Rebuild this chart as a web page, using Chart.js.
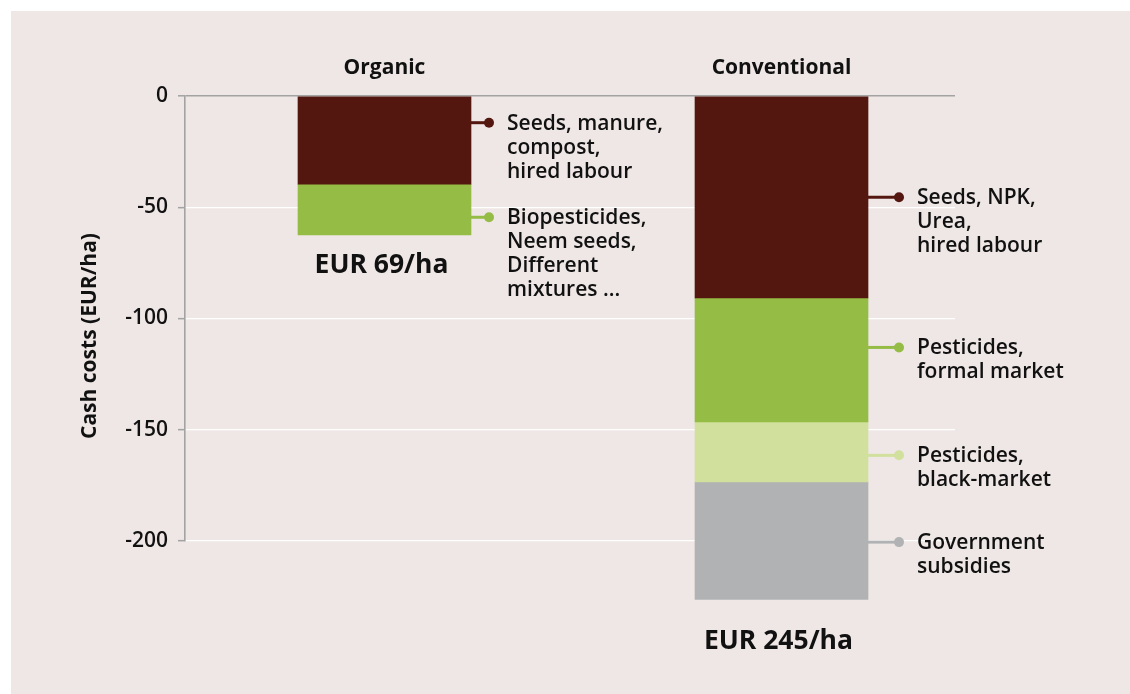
<!DOCTYPE html>
<html>
<head>
<meta charset="utf-8">
<script src="https://cdn.jsdelivr.net/npm/chart.js@4.4.1/dist/chart.umd.min.js"></script>
<style>
  html, body { margin: 0; padding: 0; background: #ffffff; }
  #wrap { position: relative; width: 1130px; height: 694px; }
  canvas { display: block; }
</style>
</head>
<body>
<div id="wrap"><canvas id="c" width="1130" height="694"></canvas></div>
<script>
// ---- data ----
const categories = ['Organic', 'Conventional'];
const seedsLabour = [-39.6, -90.8];
const pesticides = [-22.8, -55.7];
const blackMarket = [null, -27.0];
const subsidies = [null, -52.8];
const totalLabels = ['EUR 69/ha', 'EUR 245/ha'];
const yTicks = [0, -50, -100, -150, -200];
const seriesNotes = [
  [['Seeds, manure,', 'compost,', 'hired labour'], ['Seeds, NPK,', 'Urea,', 'hired labour']],
  [['Biopesticides,', 'Neem seeds,', 'Different', 'mixtures ...'], ['Pesticides,', 'formal market']],
  [null, ['Pesticides,', 'black-market']],
  [null, ['Government', 'subsidies']]
];
const yTitle = 'Cash costs (EUR/ha)';

// ---- styling ----
const COLORS = ['#53170f', '#95bc45', '#d1e09c', '#b1b2b4'];
const PANEL = '#efe7e6';
const TEXT = '#111111';
const AXIS = '#a3a3a3';
const FONT = '"Open Sans", "Noto Sans", sans-serif';

const toPoints = arr => arr.map((v, i) => ({ x: i, y: v }));
const seriesArrays = [seedsLabour, pesticides, blackMarket, subsidies];

const panelPlugin = {
  id: 'panel',
  beforeDraw(chart) {
    const ctx = chart.ctx;
    ctx.save();
    ctx.fillStyle = '#ffffff';
    ctx.fillRect(0, 0, chart.width, chart.height);
    ctx.fillStyle = PANEL;
    ctx.fillRect(11, 11, chart.width - 11, chart.height - 11);
    ctx.restore();
  }
};

// leader anchor positions (in data units) and geometry of the annotations
const noteOpts = {
  anchors: [[-12, -45.5], [-54.5, -113], [null, -161.5], [null, -200.5]],
  leaderLen: [18, 31],
  textGap: 18,
  lineHeight: 24
};

const notesPlugin = {
  id: 'notes',
  afterDatasetsDraw(chart) {
    const ctx = chart.ctx;
    const y = chart.scales.y;
    const x = chart.scales.x;
    ctx.save();
    seriesNotes.forEach((notes, di) => {
      const meta = chart.getDatasetMeta(di);
      notes.forEach((lines, ci) => {
        if (!lines || seriesArrays[di][ci] === null) return;
        const bar = meta.data[ci];
        if (!bar) return;
        const right = bar.x + bar.width / 2;
        const ly = y.getPixelForValue(noteOpts.anchors[di][ci]);
        const dotX = right + noteOpts.leaderLen[ci];
        ctx.strokeStyle = COLORS[di];
        ctx.fillStyle = COLORS[di];
        ctx.lineWidth = 3;
        ctx.beginPath();
        ctx.moveTo(right, ly);
        ctx.lineTo(dotX, ly);
        ctx.stroke();
        ctx.beginPath();
        ctx.arc(dotX, ly, 5, 0, Math.PI * 2);
        ctx.fill();
        ctx.fillStyle = TEXT;
        ctx.font = '600 21px ' + FONT;
        ctx.textAlign = 'left';
        ctx.textBaseline = 'middle';
        lines.forEach((t, k) => {
          ctx.fillText(t, dotX + noteOpts.textGap, ly + 1 + k * noteOpts.lineHeight);
        });
      });
    });
    // totals under bars
    const totalOffsets = [31, 42];
    categories.forEach((c, ci) => {
      let bottom = -Infinity;
      seriesArrays.forEach((arr, di) => {
        if (arr[ci] === null) return;
        const el = chart.getDatasetMeta(di).data[ci];
        if (el) bottom = Math.max(bottom, el.y, el.base);
      });
      if (!isFinite(bottom)) return;
      const cx = x.getPixelForValue(ci) - 3;
      ctx.fillStyle = TEXT;
      ctx.font = 'bold 26.5px ' + FONT;
      ctx.textAlign = 'center';
      ctx.textBaseline = 'middle';
      ctx.fillText(totalLabels[ci], cx, bottom + totalOffsets[ci]);
    });
    // y axis title
    ctx.translate(90, 336);
    ctx.rotate(-Math.PI / 2);
    ctx.font = 'bold 21px ' + FONT;
    ctx.textAlign = 'center';
    ctx.textBaseline = 'middle';
    ctx.fillStyle = TEXT;
    ctx.fillText(yTitle, 0, 0);
    ctx.restore();
  }
};

const datasets = seriesArrays.map((arr, i) => ({
  label: 'series' + i,
  data: toPoints(arr),
  backgroundColor: COLORS[i],
  borderWidth: 0,
  barThickness: 173,
  clip: false
}));

new Chart(document.getElementById('c'), {
  type: 'bar',
  data: { datasets },
  options: {
    responsive: false,
    animation: false,
    events: [],
    layout: { padding: { left: 0, top: 0, right: 175, bottom: 153 } },
    plugins: { legend: { display: false }, tooltip: { enabled: false } },
    scales: {
      x: {
        type: 'linear',
        position: 'top',
        stacked: true,
        offset: false,
        min: -0.5025,
        max: 1.437,
        afterBuildTicks: s => { s.ticks = categories.map((c, i) => ({ value: i })); },
        afterFit: s => { s.height = 96; },
        grid: { display: false, drawTicks: false, offset: false },
        border: { display: false },
        ticks: {
          autoSkip: false,
          maxRotation: 0,
          padding: 15,
          color: TEXT,
          font: { family: FONT, size: 21, weight: 'bold' },
          callback: v => categories[v]
        }
      },
      y: {
        type: 'linear',
        stacked: true,
        min: -200,
        max: 0,
        afterBuildTicks: s => { s.ticks = yTicks.map(v => ({ value: v })); },
        afterFit: s => { s.width = 185; },
        grid: {
          color: c => (c.tick && c.tick.value === 0 ? AXIS : '#ffffff'),
          lineWidth: c => (c.tick && c.tick.value === 0 ? 1.6 : 1.3),
          drawTicks: true,
          tickLength: 7,
          tickColor: AXIS,
          tickWidth: 1.5
        },
        border: { display: true, color: AXIS, width: 1.6 },
        ticks: {
          padding: 10,
          color: TEXT,
          font: { family: FONT, size: 21, weight: '600' }
        }
      }
    }
  },
  plugins: [panelPlugin, notesPlugin]
});
</script>
</body>
</html>
